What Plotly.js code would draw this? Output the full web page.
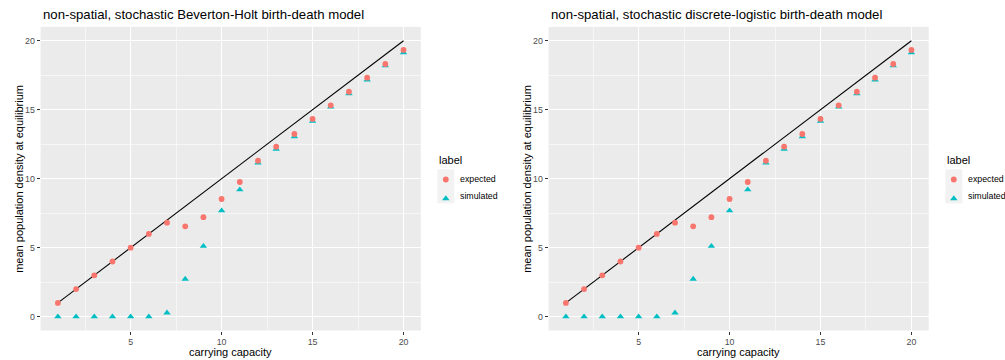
<!DOCTYPE html>
<html>
<head>
<meta charset="utf-8">
<script src="https://cdn.plot.ly/plotly-3.0.1.min.js"></script>
<style>html,body{margin:0;padding:0;background:#fff}</style>
</head>
<body>
<div id="chart" style="width:1005px;height:360px"></div>
<script>
// Equilibrium densities for carrying capacities 1..20
const carryingCapacity = [1, 2, 3, 4, 5, 6, 7, 8, 9, 10, 11, 12, 13, 14, 15, 16, 17, 18, 19, 20];
const expectedDensity = [1, 2, 3, 4, 5, 6, 6.81, 6.55, 7.21, 8.53, 9.76, 11.3, 12.32, 13.24, 14.33, 15.32, 16.3, 17.32, 18.31, 19.33];
const simulatedDensity = [0, 0, 0, 0, 0, 0, 0.28, 2.73, 5.11, 7.68, 9.2, 11.15, 12.15, 13.05, 14.18, 15.2, 16.16, 17.17, 18.19, 19.13];
const panelTitles = [
  'non-spatial, stochastic Beverton-Holt birth-death model',
  'non-spatial, stochastic discrete-logistic birth-death model'
];
const seriesLabels = ['expected', 'simulated'];
const legendTitle = 'label';
const xTitle = 'carrying capacity';
const yTitle = 'mean population density at equilibrium';

const W = 1005, H = 360;
const FONT = 'Liberation Sans, Arial, Helvetica, sans-serif';
const RED = '#F8766D', CYAN = '#00BFC4';
const px = v => v / W;
const py = v => 1 - v / H;

// pixel frame of each panel [left, right] and its legend key column
const panels = [
  { left: 40.6, right: 420.8, xa: 'x', ya: 'y', leg: 'legend', legX: 437.3 },
  { left: 548.6, right: 928.7, xa: 'x2', ya: 'y2', leg: 'legend2', legX: 945.3 }
];
const panelTop = 26.9, panelBottom = 330.5;
const keyRows = [179, 196];

const traces = [];
const layout = {
  width: W, height: H,
  margin: { l: 0, r: 0, t: 0, b: 0, autoexpand: false },
  paper_bgcolor: '#ffffff',
  plot_bgcolor: '#EBEBEB',
  font: { family: FONT, color: '#000000' },
  showlegend: true,
  annotations: [],
  shapes: []
};

panels.forEach((p, i) => {
  const sfx = i === 0 ? '' : '2';
  // identity line
  traces.push({
    x: carryingCapacity, y: carryingCapacity, xaxis: p.xa, yaxis: p.ya,
    mode: 'lines', line: { color: '#000000', width: 1.1 },
    showlegend: false, hoverinfo: 'skip'
  });
  // legend keys carry only the symbol; their labels are placed as annotations below
  traces.push({
    x: carryingCapacity, y: simulatedDensity, xaxis: p.xa, yaxis: p.ya,
    name: '', legend: p.leg, legendrank: 2,
    mode: 'markers', marker: { symbol: 'triangle-up', size: 6.5, color: CYAN, line: { width: 0 } }
  });
  traces.push({
    x: carryingCapacity, y: expectedDensity, xaxis: p.xa, yaxis: p.ya,
    name: '', legend: p.leg, legendrank: 1,
    mode: 'markers', marker: { symbol: 'circle', size: 5.8, color: RED, line: { width: 0 } }
  });

  const axCommon = {
    showline: false, zeroline: false,
    ticks: 'outside', ticklen: 3, tickwidth: 1, tickcolor: '#333333',
    tickfont: { family: FONT, size: 8.8, color: '#4D4D4D' },
    gridcolor: '#FFFFFF', gridwidth: 1.1,
    tick0: 0, dtick: 5,
    minor: { dtick: 2.5, tick0: 0, showgrid: true, gridcolor: '#FFFFFF', gridwidth: 0.55, ticks: '' },
    fixedrange: true
  };
  layout['xaxis' + sfx] = Object.assign({}, axCommon, {
    domain: [px(p.left), px(p.right)], range: [0.05, 20.95], anchor: p.ya
  });
  layout['yaxis' + sfx] = Object.assign({}, axCommon, {
    domain: [py(panelBottom), py(panelTop)], range: [-1, 21], anchor: p.xa
  });

  layout[p.leg] = {
    x: px(p.legX - 11.5), xanchor: 'left', y: py(165), yanchor: 'top',
    bgcolor: 'rgba(0,0,0,0)', borderwidth: 0,
    font: { family: FONT, size: 8.8, color: '#000000' },
    traceorder: 'normal', itemclick: false, itemdoubleclick: false
  };
  // legend key backgrounds
  layout.shapes.push({
    type: 'rect', xref: 'paper', yref: 'paper',
    x0: px(p.legX), x1: px(p.legX + 17), y0: py(169.3), y1: py(203.3),
    fillcolor: '#F2F2F2', line: { width: 0 }, layer: 'below'
  });

  layout.annotations.push(
    { text: panelTitles[i], xref: 'paper', yref: 'paper', x: px(p.left), y: py(15),
      xanchor: 'left', yanchor: 'middle', showarrow: false, font: { family: FONT, size: 13.2, color: '#000' } },
    { text: xTitle, xref: 'paper', yref: 'paper', x: px((p.left + p.right) / 2), y: py(351.5),
      xanchor: 'center', yanchor: 'middle', showarrow: false, font: { family: FONT, size: 11, color: '#000' } },
    { text: yTitle, xref: 'paper', yref: 'paper', x: px(p.left - 21.5), y: py((panelTop + panelBottom) / 2),
      xanchor: 'center', yanchor: 'middle', textangle: -90, showarrow: false, font: { family: FONT, size: 11, color: '#000' } },
    { text: legendTitle, xref: 'paper', yref: 'paper', x: px(p.legX - 0.6), y: py(160),
      xanchor: 'left', yanchor: 'middle', showarrow: false, font: { family: FONT, size: 11, color: '#000' } }
  );
  seriesLabels.forEach((lab, k) => {
    layout.annotations.push({
      text: lab, xref: 'paper', yref: 'paper', x: px(p.legX + 22), y: py(keyRows[k]),
      xanchor: 'left', yanchor: 'middle', showarrow: false, borderpad: 0,
      font: { family: FONT, size: 8.8, color: '#000' }
    });
  });
});

Plotly.newPlot('chart', traces, layout, { displayModeBar: false, staticPlot: true });
</script>
</body>
</html>
